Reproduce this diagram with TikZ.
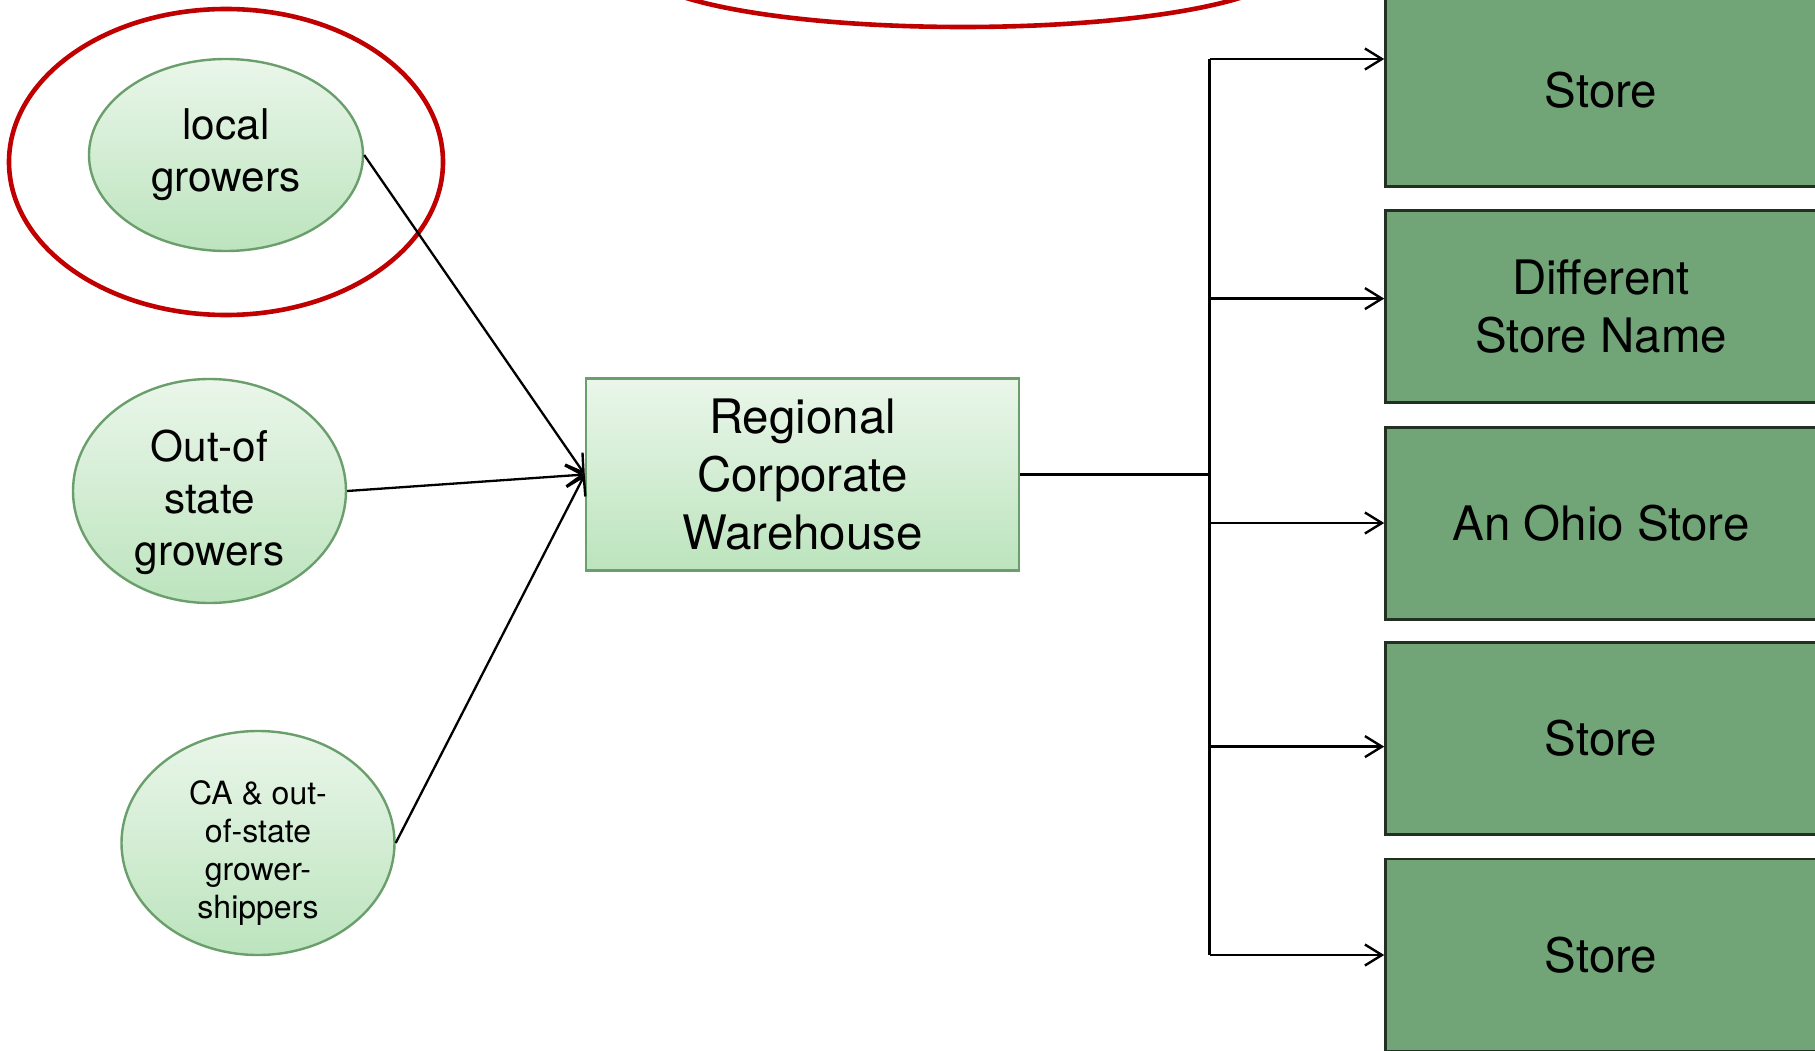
\documentclass[tikz,border=0pt]{standalone}
\usepackage{fontspec}
\setmainfont{TeX Gyre Heros}
\usetikzlibrary{shapes.geometric,arrows.meta}

\definecolor{leafedge}{HTML}{6A9E6B}
\definecolor{leaftop}{HTML}{EAF6EA}
\definecolor{leafbottom}{HTML}{BCE4BD}
\definecolor{storefill}{HTML}{71A477}
\definecolor{storeedge}{HTML}{223022}
\definecolor{markred}{HTML}{C00000}

% a tall invisible strut that pushes a text block downwards
\newcommand{\droptext}[1]{\rule{0pt}{#1}}

\tikzset{
  grower/.style={ellipse, draw=leafedge, line width=2.4pt,
    top color=leaftop, bottom color=leafbottom, inner sep=0pt, align=center},
  lowtext/.style={inner ysep=-40pt},
  hub/.style={rectangle, draw=leafedge, line width=2.4pt,
    top color=leaftop, bottom color=leafbottom, inner sep=0pt, align=center,
    minimum width=433pt, minimum height=192pt,
    font=\fontsize{47.5}{58}\selectfont},
  storebox/.style={rectangle, draw=storeedge, line width=2.6pt, fill=storefill,
    inner sep=0pt, align=center, minimum width=431pt, minimum height=192pt,
    font=\fontsize{47.5}{58}\selectfont},
  flow/.style={line width=2.3pt, black},
  feed/.style={flow, -{Straight Barb[length=17pt,width=21pt,line width=2.4pt]}},
  highlight/.style={draw=markred, line width=4.6pt}
}

\begin{document}
\begin{tikzpicture}[x=1pt,y=-1pt]
\useasboundingbox (0,0) rectangle (1815,1051);
\clip (0,0) rectangle (1815,1051);

% red highlight rings
\draw[highlight] (963,-33) ellipse [x radius=323pt, y radius=60pt];

% growers
\node[grower, minimum width=274pt, minimum height=192pt,
      font=\fontsize{42.3}{52}\selectfont] (lg) at (226,155) {local\\growers};
\node[grower, lowtext, minimum width=273pt, minimum height=224pt,
      font=\fontsize{42.3}{52}\selectfont] (os) at (209.5,491)
      {\droptext{55pt}Out-of\\state\\growers};
\node[grower, lowtext, minimum width=273pt, minimum height=224pt,
      font=\fontsize{32}{38}\selectfont] (ca) at (258,843)
      {\droptext{44pt}CA \& out-\\of-state\\grower-\\shippers};

\draw[highlight] (226,162) ellipse [x radius=217pt, y radius=153pt];

% warehouse
\node[hub] (wh) at (802.5,474.5) {Regional\\Corporate\\Warehouse};

% stores
\node[storebox] (s1) at (1601,90.3) {Store};
\node[storebox] (s2) at (1601,306.7) {Different\\Store Name};
\node[storebox] (s3) at (1601,523.2) {An Ohio Store};
\node[storebox] (s4) at (1601,738.5) {Store};
\node[storebox] (s5) at (1601,955) {Store};

% inbound flows
\draw[feed] (lg.east) -- (wh.west);
\draw[feed] (os.east) -- (wh.west);
\draw[feed] (ca.east) -- (wh.west);

% distribution bus
\coordinate (bmid) at (1209.6,474.5);
\coordinate (j1) at (1209.6,59);
\coordinate (j2) at (1209.6,298.6);
\coordinate (j3) at (1209.6,523);
\coordinate (j4) at (1209.6,746.6);
\coordinate (j5) at (1209.6,955);

\draw[flow] (wh.east) -- (bmid);
\draw[flow] (j1) -- (j5);
\draw[feed] (j1) -- (j1 -| s1.west);
\draw[feed] (j2) -- (j2 -| s2.west);
\draw[feed] (j3) -- (j3 -| s3.west);
\draw[feed] (j4) -- (j4 -| s4.west);
\draw[feed] (j5) -- (j5 -| s5.west);
\end{tikzpicture}
\end{document}
